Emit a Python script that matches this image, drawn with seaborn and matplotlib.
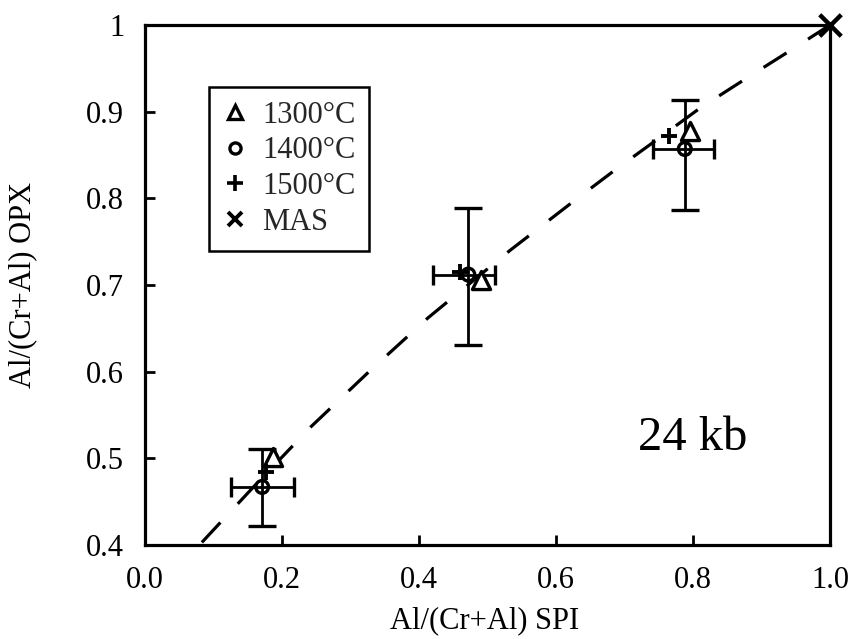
import matplotlib
matplotlib.use("Agg")
import matplotlib.pyplot as plt
from matplotlib.lines import Line2D
from matplotlib.ticker import FuncFormatter
import seaborn as sns
import pandas as pd

# ---- data ----
series_names = ["1300°C", "1400°C", "1500°C", "MAS"]

x_1300 = [0.187, 0.490, 0.796]
y_1300 = [0.501, 0.706, 0.878]

x_1400 = [0.171, 0.472, 0.788]
y_1400 = [0.467, 0.712, 0.857]
xerr_lo_1400 = [0.046, 0.051, 0.047]
xerr_hi_1400 = [0.046, 0.039, 0.043]
yerr_lo_1400 = [0.045, 0.081, 0.071]
yerr_hi_1400 = [0.044, 0.077, 0.056]

x_1500 = [0.176, 0.460, 0.765]
y_1500 = [0.484, 0.715, 0.872]

x_mas = [1.0]
y_mas = [1.0]

curve_x = [0.083, 0.156, 0.243, 0.327, 0.413, 0.533, 0.623, 0.685, 0.747, 0.810, 0.877, 0.943, 1.0]
curve_y = [0.403, 0.465, 0.537, 0.600, 0.662, 0.740, 0.795, 0.832, 0.8675, 0.904, 0.938, 0.971, 1.0]

x_ticks = [0.0, 0.2, 0.4, 0.6, 0.8, 1.0]
y_ticks = [0.4, 0.5, 0.6, 0.7, 0.8, 0.9, 1.0]

x_label = "Al/(Cr+Al) SPI"
y_label = "Al/(Cr+Al) OPX"
annotation = "24 kb"

# ---- style ----
sns.set_theme(style="ticks")
plt.rcParams["font.family"] = ["Liberation Serif", "DejaVu Serif"]

fig = plt.figure(figsize=(8.57, 6.39), dpi=100)
ax = fig.add_axes([0.1692, 0.1471, 0.7993, 0.8138])

# dashed curve
df_curve = pd.DataFrame({"x": curve_x, "y": curve_y})
sns.lineplot(data=df_curve, x="x", y="y", ax=ax, color="black", lw=2.3,
             sort=False, estimator=None, zorder=1)
ax.lines[-1].set_linestyle((0, (8.5, 8)))

# error bars (1400°C)
ax.errorbar(x_1400, y_1400, yerr=[yerr_lo_1400, yerr_hi_1400], fmt="none",
            ecolor="black", elinewidth=2.0, capsize=10, capthick=2.4, zorder=2)
ax.errorbar(x_1400, y_1400, xerr=[xerr_lo_1400, xerr_hi_1400], fmt="none",
            ecolor="black", elinewidth=2.0, capsize=7, capthick=2.4, zorder=2)

# markers
df_1300 = pd.DataFrame({"x": x_1300, "y": y_1300})
df_1400 = pd.DataFrame({"x": x_1400, "y": y_1400})
df_1500 = pd.DataFrame({"x": x_1500, "y": y_1500})
df_mas = pd.DataFrame({"x": x_mas, "y": y_mas})

sns.scatterplot(data=df_1300, x="x", y="y", ax=ax, marker="^", s=170,
                facecolor="white", edgecolor="black", linewidth=2.4, zorder=3)
sns.scatterplot(data=df_1400, x="x", y="y", ax=ax, marker="o", s=85,
                facecolor="none", edgecolor="black", linewidth=2.4, zorder=4)
sns.scatterplot(data=df_1500, x="x", y="y", ax=ax, marker="+", s=140,
                color="black", linewidth=2.8, zorder=4)
sns.scatterplot(data=df_mas, x="x", y="y", ax=ax, marker="x", s=240,
                color="black", linewidth=3.2, zorder=5, clip_on=False)

# axes
ax.set_xlim(0, 1)
ax.set_ylim(0.4, 1.0)
ax.set_xticks(x_ticks)
ax.set_yticks(y_ticks)
ax.xaxis.set_major_formatter(FuncFormatter(lambda v, p: f"{v:.1f}"))
ax.yaxis.set_major_formatter(FuncFormatter(lambda v, p: f"{v:g}"))
ax.tick_params(axis="both", direction="in", length=7, width=2, labelsize=22,
               colors="black", pad=15)
for sp in ax.spines.values():
    sp.set_visible(True)
    sp.set_linewidth(2.3)
    sp.set_color("black")

ax.set_xlabel(x_label, fontsize=22, color="black")
ax.set_ylabel(y_label, fontsize=22, color="black")
ax.xaxis.set_label_coords(0.496, -0.118)
ax.yaxis.set_label_coords(-0.158, 0.5)

ax.text(0.80, 0.524, annotation, fontsize=35, ha="center", va="center",
        color="black")

# legend
handles = [
    Line2D([], [], marker="^", ls="none", mfc="white", mec="black", mew=2.4, ms=9.5),
    Line2D([], [], marker="o", ls="none", mfc="white", mec="black", mew=2.4, ms=8),
    Line2D([], [], marker="+", ls="none", color="black", mew=2.6, ms=12),
    Line2D([], [], marker="x", ls="none", color="black", mew=2.8, ms=9.5),
]
leg = ax.legend(handles, series_names, loc="upper left",
                bbox_to_anchor=(0.093, 0.881), borderaxespad=0,
                fontsize=22, frameon=True, fancybox=False, framealpha=1,
                edgecolor="black", handlelength=0.8, handletextpad=0.5,
                labelspacing=0.22, borderpad=0.45)
leg.get_frame().set_linewidth(1.8)

fig.savefig("out.png", dpi=100, facecolor="white")
